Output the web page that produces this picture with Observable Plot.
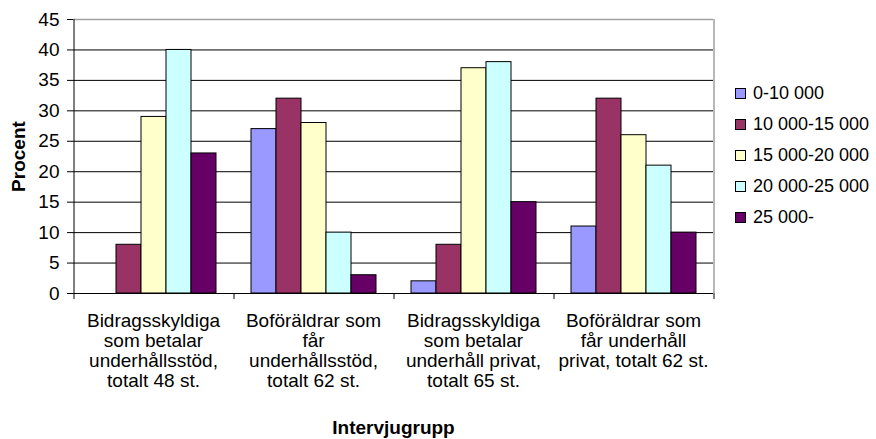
<!DOCTYPE html>
<html>
<head>
<meta charset="utf-8">
<script src="https://cdn.jsdelivr.net/npm/d3@7"></script>
<script src="https://cdn.jsdelivr.net/npm/@observablehq/plot@0.6"></script>
<style>
  html, body { margin: 0; padding: 0; background: #fff; }
  #wrap { position: relative; width: 876px; height: 439px; font-family: "Liberation Sans", Arial, sans-serif; }
  #legend { position: absolute; left: 735px; top: 78px; font-size: 18px; color: #000; }
  #legend .row { display: flex; align-items: center; height: 31px; white-space: nowrap; }
  #legend .sw { width: 9px; height: 9px; border: 1px solid #000; margin-right: 7px; }
  g[aria-label="fx-axis label"] text, g[aria-label="y-axis label"] text { font-weight: bold; }
</style>
</head>
<body>
<div id="wrap"><div id="chart"></div><div id="legend"></div></div>
<script>
const groups = [
  "Bidragsskyldiga\nsom betalar\nunderhållsstöd,\ntotalt 48 st.",
  "Boföräldrar som\nfår\nunderhållsstöd,\ntotalt 62 st.",
  "Bidragsskyldiga\nsom betalar\nunderhåll privat,\ntotalt 65 st.",
  "Boföräldrar som\nfår underhåll\nprivat, totalt 62 st."
];
const series = ["0-10 000", "10 000-15 000", "15 000-20 000", "20 000-25 000", "25 000-"];
const colors = ["#9999FF", "#993366", "#FFFFCC", "#CCFFFF", "#660066"];
const v0_10 = [0, 27, 2, 11];
const v10_15 = [8, 32, 8, 32];
const v15_20 = [29, 28, 37, 26];
const v20_25 = [40, 10, 38, 21];
const v25 = [23, 3, 15, 10];
const yTicks = [0, 5, 10, 15, 20, 25, 30, 35, 40, 45];

const seriesValues = [v0_10, v10_15, v15_20, v20_25, v25];
const table = [];
groups.forEach((g, gi) => series.forEach((s, si) => table.push({group: g, series: s, value: seriesValues[si][gi]})));

const edge = 30; // offset from band centre to facet edge

const chart = Plot.plot({
  width: 876,
  height: 439,
  marginLeft: 73,
  marginRight: 163,
  marginTop: 19,
  marginBottom: 146,
  style: {fontFamily: "'Liberation Sans', Arial, sans-serif", fontSize: "19px", color: "#000", background: "#fff", overflow: "visible"},
  fx: {domain: groups, padding: 0, axis: null},
  x: {domain: series, paddingInner: 0, paddingOuter: 0.7, axis: null},
  y: {domain: [0, 45], axis: null},
  color: {domain: series, range: colors},
  marks: [
    Plot.ruleY(yTicks.filter(t => t > 0 && t < 45), {stroke: "#000", strokeWidth: 1}),
    Plot.ruleY([45], {stroke: "#a0a0a0", strokeWidth: 1.5}),
    Plot.barY(table, {fx: "group", x: "series", y: "value", fill: "series", stroke: "#000", strokeWidth: 1}),
    Plot.ruleY([0], {stroke: "#000"}),
    Plot.ruleX(groups, {fx: d => d, x: () => series[0], y1: -1, y2: 0, dx: -edge, stroke: "#000"}),
    Plot.ruleX([groups[0]], {fx: d => d, x: () => series[0], y1: 0, y2: 45, dx: -edge, stroke: "#000"}),
    Plot.ruleX([groups[3]], {fx: d => d, x: () => series[4], y1: 0, y2: 45, dx: edge, stroke: "#a0a0a0", strokeWidth: 1.5}),
    Plot.ruleX([groups[3]], {fx: d => d, x: () => series[4], y1: -1, y2: 0, dx: edge, stroke: "#000"}),
    Plot.axisY({ticks: yTicks, tickSize: 6, tickPadding: 8, fontSize: 19, label: "Procent", labelAnchor: "center", labelOffset: 62, labelArrow: "none"}),
    Plot.axisFx({anchor: "bottom", tickSize: 0, tickPadding: 19, fontSize: 19, lineHeight: 1.05, label: "Intervjugrupp", labelAnchor: "center", labelOffset: 140})
  ]
});
document.getElementById("chart").appendChild(chart);

const legend = document.getElementById("legend");
series.forEach((s, i) => {
  const row = document.createElement("div");
  row.className = "row";
  const sw = document.createElement("div");
  sw.className = "sw";
  sw.style.background = colors[i];
  const t = document.createElement("span");
  t.textContent = s;
  row.appendChild(sw); row.appendChild(t);
  legend.appendChild(row);
});
</script>
</body>
</html>
